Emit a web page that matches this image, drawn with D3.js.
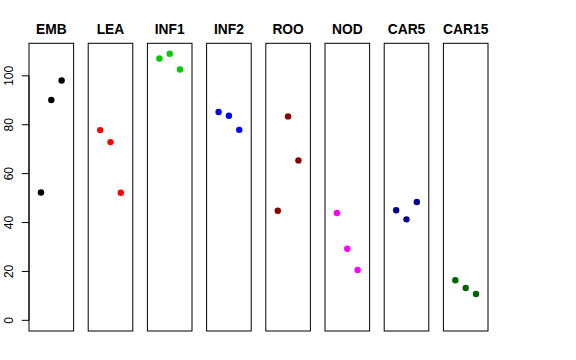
<!DOCTYPE html>
<html><head><meta charset="utf-8">
<script src="https://cdn.jsdelivr.net/npm/d3@7"></script>
<style>body{margin:0;background:#fff}svg{display:block}</style>
</head><body>
<script>
const categories = ["EMB","LEA","INF1","INF2","ROO","NOD","CAR5","CAR15"];
const colors = ["#000000","#FF0000","#00CD00","#0000FF","#8B0000","#FF00FF","#00008B","#006400"];
const emb = [52.3, 90.1, 98.1];
const lea = [77.8, 72.9, 52.2];
const inf1 = [107.1, 109.0, 102.6];
const inf2 = [85.2, 83.7, 77.9];
const roo = [44.8, 83.4, 65.4];
const nod = [43.9, 29.3, 20.6];
const car5 = [45.0, 41.3, 48.4];
const car15 = [16.4, 13.2, 10.8];
const seriesValues = [emb, lea, inf1, inf2, roo, nod, car5, car15];
const yTicks = [0, 20, 40, 60, 80, 100];

(function () {
const W = 576, H = 360;
const svg = d3.select("body").append("svg").attr("width", W).attr("height", H);

const plotTop = 43.3, plotBottom = 331;
const panelLeft = 29, panelStep = 59.2, panelW = 44.6;
const y = d3.scaleLinear().domain([-4.36, 113.3]).range([plotBottom, plotTop]);
const x = d3.scaleLinear().domain([-0.16, 4.16]).range([0, panelW]);

categories.forEach((cat, i) => {
  const g = svg.append("g").attr("transform", `translate(${panelLeft + i * panelStep},0)`);
  g.append("rect").attr("x", 0).attr("y", plotTop).attr("width", panelW).attr("height", plotBottom - plotTop)
    .attr("fill", "none").attr("stroke", "#000").attr("stroke-width", 1);
  g.selectAll("circle").data(seriesValues[i]).join("circle")
    .attr("cx", (d, j) => x(j + 1)).attr("cy", d => y(d)).attr("r", 3.2)
    .attr("fill", colors[i]);
  g.append("text").attr("x", panelW / 2).attr("y", 34)
    .attr("text-anchor", "middle").attr("font-family", "Liberation Sans, Arial, sans-serif")
    .attr("font-weight", "bold").attr("font-size", "13.8px").text(cat);
  if (i === 0) {
    const ax = g.append("g");
    ax.append("line").attr("x1", 0).attr("x2", 0).attr("y1", y(0)).attr("y2", y(100)).attr("stroke", "#000");
    ax.selectAll("line.t").data(yTicks).join("line").attr("class", "t")
      .attr("x1", 0).attr("x2", -7.2).attr("y1", d => y(d)).attr("y2", d => y(d)).attr("stroke", "#000");
    ax.selectAll("text").data(yTicks).join("text")
      .attr("text-anchor", "middle").attr("font-family", "Liberation Sans, Arial, sans-serif")
      .attr("font-size", "12px").text(d => d)
      .attr("transform", d => `translate(${-29 + 13.3},${y(d)}) rotate(-90)`);
  }
});
})();
</script>
</body></html>
